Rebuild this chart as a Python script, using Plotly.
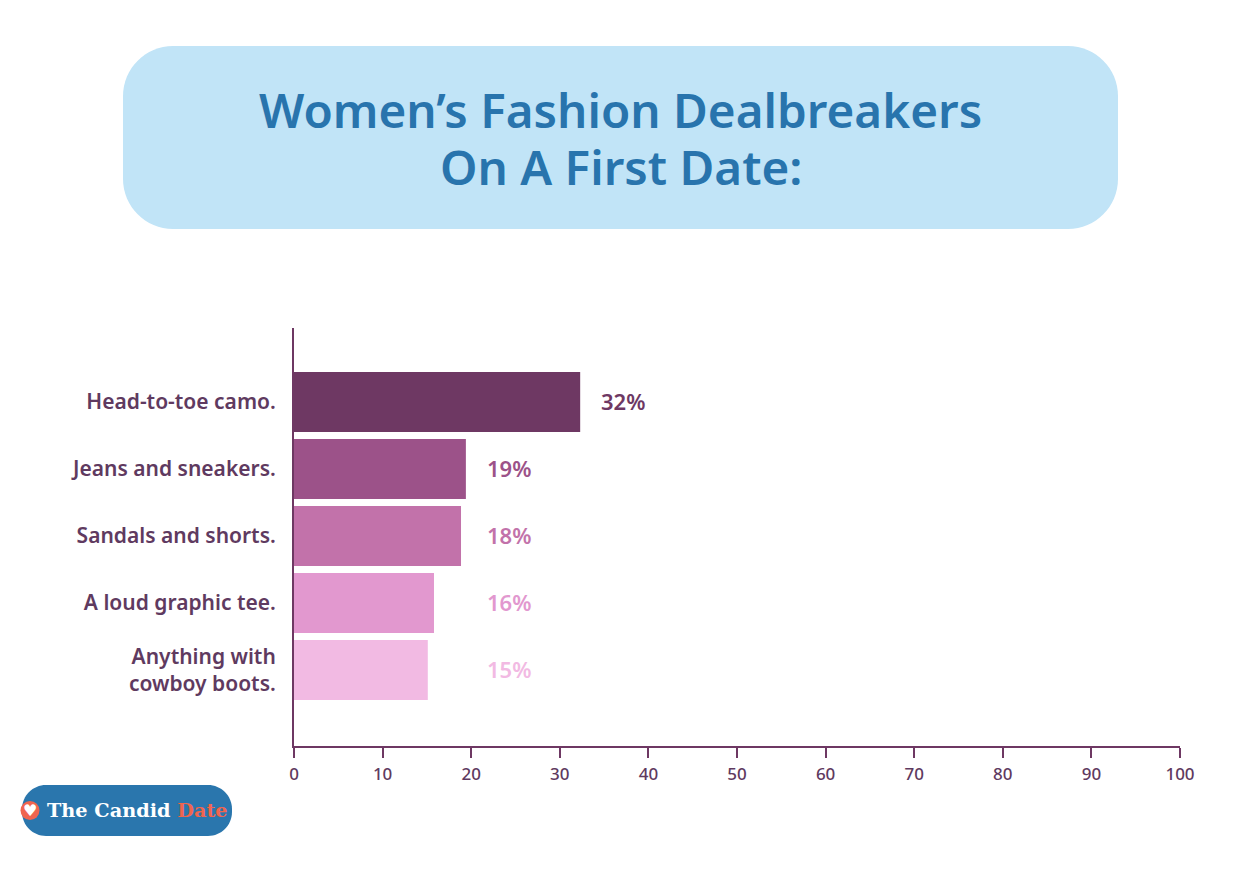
import plotly.graph_objects as go

categories = ["Head-to-toe camo.", "Jeans and sneakers.", "Sandals and shorts.",
              "A loud graphic tee.", "Anything with<br>cowboy boots."]
values = [32.3, 19.4, 18.85, 15.8, 15.1]
value_labels = ["32%", "19%", "18%", "16%", "15%"]
label_x = [34.4, 21.55, 21.55, 21.55, 21.55]
colors = ["#6e3863", "#9c5289", "#c272aa", "#e298cf", "#f2bae3"]
title_lines = ["Women’s Fashion Dealbreakers", "On A First Date:"]
OFF = 8
W, H = 1240 - 2 * OFF, 871 - 2 * OFF
L, R, T, B = 294, 1180, 328, 746
TEXT = "#5f3a60"
FONT = "Noto Sans"


def fx(v):
    return (v - L) / (R - L)


def fy(v):
    return (B - v) / (B - T)


def rrect(x0, y0, x1, y1, r):
    c = 0.45 * r
    return (f"M{fx(x0+r)},{fy(y0)} L{fx(x1-r)},{fy(y0)} "
            f"C{fx(x1-c)},{fy(y0)} {fx(x1)},{fy(y0+c)} {fx(x1)},{fy(y0+r)} "
            f"L{fx(x1)},{fy(y1-r)} C{fx(x1)},{fy(y1-c)} {fx(x1-c)},{fy(y1)} {fx(x1-r)},{fy(y1)} "
            f"L{fx(x0+r)},{fy(y1)} C{fx(x0+c)},{fy(y1)} {fx(x0)},{fy(y1-c)} {fx(x0)},{fy(y1-r)} "
            f"L{fx(x0)},{fy(y0+r)} C{fx(x0)},{fy(y0+c)} {fx(x0+c)},{fy(y0)} {fx(x0+r)},{fy(y0)} Z")


fig = go.Figure(go.Bar(
    x=values, y=categories, orientation="h",
    marker=dict(color=colors, line=dict(width=0)),
    width=0.895, hoverinfo="skip",
))

annotations = [
    dict(x=lx, y=c, xref="x", yref="y", text=t, showarrow=False, xanchor="left", yshift=1,
         font=dict(family=FONT, size=22, color=col, weight=600))
    for lx, c, t, col in zip(label_x, categories, value_labels, colors)
]
annotations += [
    dict(x=fx(620.5), y=fy(py), xref="paper", yref="paper", text=t, showarrow=False,
         xanchor="center", yanchor="middle",
         font=dict(family=FONT, size=47.6, color="#2874ad", weight=600))
    for t, py in zip(title_lines, [109, 167])
]
annotations += [
    dict(x=fx(45), y=fy(810), xref="paper", yref="paper", xanchor="left", yanchor="middle",
         text="The Candid <span style='color:#f0654f'>Date</span>", showarrow=False,
         font=dict(family="DejaVu Serif", size=19.3, color="#ffffff", weight=700)),
    dict(x=fx(30), y=fy(810), xref="paper", yref="paper", text="♥", showarrow=False,
         xanchor="center", yanchor="middle",
         font=dict(family="DejaVu Sans", size=16, color="#ffffff")),
]

shapes = [
    dict(type="path", xref="paper", yref="paper", path=rrect(123, 46, 1118, 229, 50),
         fillcolor="#c1e4f7", line=dict(width=0), layer="below"),
    dict(type="path", xref="paper", yref="paper", path=rrect(22, 785, 232, 836, 24),
         fillcolor="#2a76ad", line=dict(width=0), layer="below"),
    dict(type="circle", xref="paper", yref="paper", x0=fx(20.5), x1=fx(39.5),
         y0=fy(820), y1=fy(801), fillcolor="#f0654f", line=dict(width=0), layer="below"),
]

fig.update_layout(
    width=W, height=H, autosize=False,
    paper_bgcolor="#ffffff", plot_bgcolor="rgba(0,0,0,0)",
    margin=dict(l=L - OFF, r=W - (R - OFF), t=T - OFF, b=H - (B - OFF), autoexpand=False),
    showlegend=False, annotations=annotations, shapes=shapes,
    font=dict(family=FONT, color=TEXT),
    xaxis=dict(range=[0, 100], dtick=10, tick0=0, showgrid=False, zeroline=False,
               showline=True, linecolor="#6e3863", linewidth=2,
               ticks="outside", ticklen=10, tickwidth=2, tickcolor="#6e3863",
               ticklabelstandoff=2,
               tickfont=dict(family=FONT, size=17, color=TEXT, weight=500)),
    yaxis=dict(categoryorder="array", categoryarray=categories, range=[5.134, -1.104],
               showgrid=False, zeroline=False, showline=True, linecolor="#6e3863", linewidth=2,
               ticks="", ticklabelstandoff=12,
               tickfont=dict(family=FONT, size=21, color=TEXT, weight=600)),
)

fig.write_html("out.html", config={"displayModeBar": False})
